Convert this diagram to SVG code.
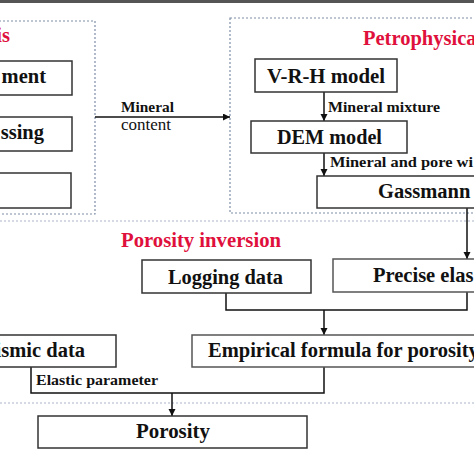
<svg xmlns="http://www.w3.org/2000/svg" width="474" height="474" viewBox="0 0 474 474">
<defs>
<marker id="ah" markerUnits="userSpaceOnUse" markerWidth="8" markerHeight="8" refX="7" refY="3.5" orient="auto">
<path d="M0,0 L7,3.5 L0,7 Z" fill="#111"/>
</marker>
<style>
.box{fill:#fff;stroke:#333;stroke-width:1.5}
.grp{fill:none;stroke:#7f8ea6;stroke-width:1.2;stroke-dasharray:2 2}
.sep{fill:none;stroke:#a9b4c6;stroke-width:1.2;stroke-dasharray:2 2}
.t{font-family:"Liberation Serif","Times New Roman",serif;font-weight:bold;font-size:20.5px;fill:#111}
.s{font-family:"Liberation Serif","Times New Roman",serif;font-weight:bold;font-size:15.5px;fill:#111}
.r{font-family:"Liberation Serif","Times New Roman",serif;font-size:16px;fill:#111}
.red{font-family:"Liberation Serif","Times New Roman",serif;font-weight:bold;font-size:20.5px;fill:#e0103c}
.c{fill:none;stroke:#111;stroke-width:1.5}
</style>
</defs>
<rect x="0" y="0" width="474" height="3" fill="#555"/>
<g id="groups">
<rect class="grp" x="-5" y="21" width="100" height="193"/>
<rect class="grp" x="230" y="18" width="250" height="195"/>
<line class="sep" x1="0" y1="221" x2="474" y2="221"/>
<line class="sep" x1="0" y1="403" x2="474" y2="403"/>
</g>
<g id="titles">
<text class="red" x="10" y="42" text-anchor="end">is</text>
<text class="red" x="363" y="45">Petrophysica</text>
<text class="red" x="121" y="247" textLength="160" lengthAdjust="spacingAndGlyphs">Porosity inversion</text>
</g>
<g id="connectors">
<line class="c" x1="95" y1="117" x2="230" y2="117" marker-end="url(#ah)"/>
<line class="c" x1="324" y1="92" x2="324" y2="121" marker-end="url(#ah)"/>
<line class="c" x1="324" y1="153" x2="324" y2="176" marker-end="url(#ah)"/>
<line class="c" x1="467" y1="208" x2="467" y2="259" marker-end="url(#ah)"/>
<polyline class="c" points="226,293 226,310 467,310 467,292"/>
<line class="c" x1="324" y1="310" x2="324" y2="335" marker-end="url(#ah)"/>
<polyline class="c" points="31,367 31,393 324,393 324,367"/>
<line class="c" x1="172" y1="393" x2="172" y2="416" marker-end="url(#ah)"/>
<text class="s" x="121" y="112" textLength="53" lengthAdjust="spacingAndGlyphs">Mineral</text>
<text class="r" x="121" y="130" textLength="50" lengthAdjust="spacingAndGlyphs">content</text>
<text class="s" x="328" y="112" textLength="112" lengthAdjust="spacingAndGlyphs">Mineral  mixture</text>
<text class="s" x="330" y="167" textLength="143" lengthAdjust="spacingAndGlyphs">Mineral  and  pore wi</text>
<text class="s" x="36" y="385" textLength="122" lengthAdjust="spacingAndGlyphs">Elastic parameter</text>
</g>
<g id="n1"><rect class="box" x="-5" y="61" width="77" height="34"/><text class="t" x="46" y="83" text-anchor="end">ment</text></g>
<g id="n2"><rect class="box" x="-5" y="117" width="77" height="34"/><text class="t" x="44" y="139" text-anchor="end">ssing</text></g>
<g id="n3"><rect class="box" x="-5" y="173" width="76" height="35"/></g>
<g id="vrh"><rect class="box" x="255" y="59" width="142" height="33"/><text class="t" x="326" y="83" text-anchor="middle" textLength="118" lengthAdjust="spacingAndGlyphs">V-R-H model</text></g>
<g id="dem"><rect class="box" x="251" y="121" width="156" height="32"/><text class="t" x="329.5" y="144" text-anchor="middle" textLength="105" lengthAdjust="spacingAndGlyphs">DEM model</text></g>
<g id="gassmann"><rect class="box" x="317" y="176" width="163" height="32"/><text class="t" x="378" y="198">Gassmann</text></g>
<g id="logging"><rect class="box" x="142" y="260" width="169" height="33"/><text class="t" x="168" y="284" textLength="115" lengthAdjust="spacingAndGlyphs">Logging data</text></g>
<g id="precise"><rect class="box" x="333" y="259" width="147" height="33" style="stroke:#555"/><text class="t" x="373" y="282">Precise elas</text></g>
<g id="seismic"><rect class="box" x="-5" y="335" width="121" height="32"/><text class="t" x="85" y="357" text-anchor="end">ismic data</text></g>
<g id="empirical"><rect class="box" x="192" y="335" width="288" height="32" style="stroke:#555"/><text class="t" x="208" y="357">Empirical formula for porosity</text></g>
<g id="porosity"><rect class="box" x="38" y="416" width="269" height="32"/><text class="t" x="136" y="438" textLength="74" lengthAdjust="spacingAndGlyphs">Porosity</text></g>
</svg>
